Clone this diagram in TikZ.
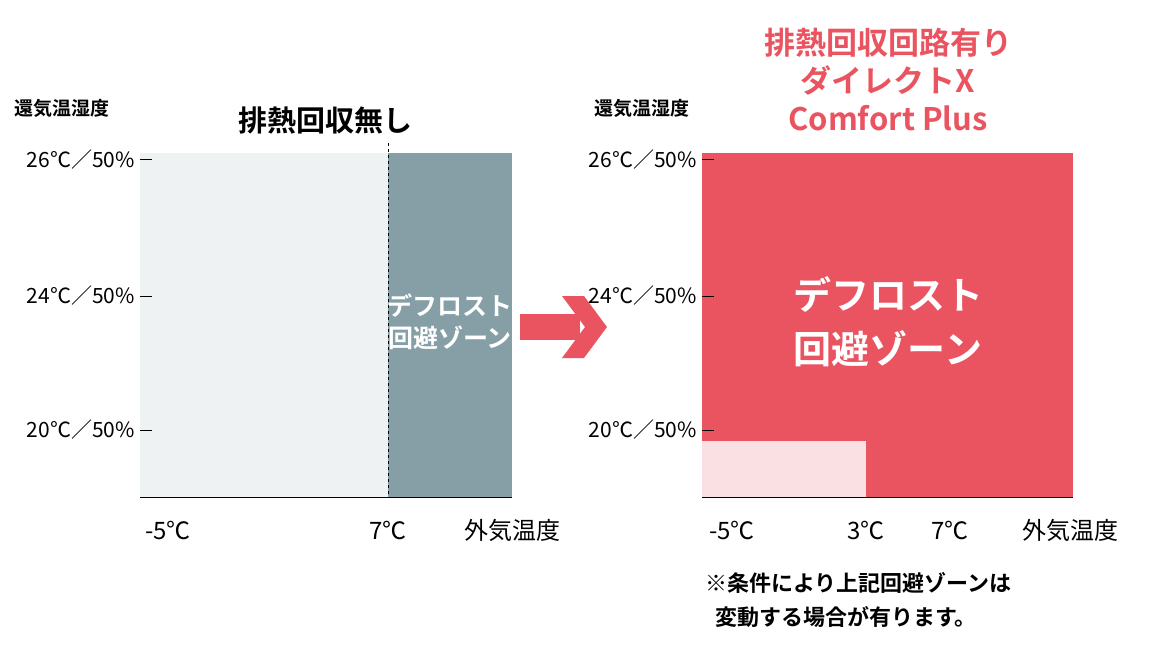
\documentclass[tikz,border=0pt]{standalone}
\usepackage{fontspec}
\setmainfont{Noto Sans CJK JP}
\newfontfamily\jpb{Noto Sans CJK JP Bold}
\definecolor{lgray}{HTML}{EEF2F3}
\definecolor{bgray}{HTML}{869FA6}
\definecolor{myred}{HTML}{EA5460}
\definecolor{lpink}{HTML}{FBE0E3}
\begin{document}
\begin{tikzpicture}[x=1pt,y=-1pt,
  ylab/.style={anchor=east,font=\fontsize{21}{21}\selectfont,inner sep=0},
  xlab/.style={font=\fontsize{24}{24}\selectfont,inner sep=0},
  tick/.style={line width=1pt}]
\useasboundingbox[fill=white] (0,0) rectangle (1150,660);
% left panel
\fill[lgray] (140,153) rectangle (388,497);
\fill[bgray] (388,153) rectangle (512,497);
\draw[dashed,line width=1pt] (388,143) -- (388,497);
\draw[line width=1pt] (140,497) -- (512,497);
\node[font=\jpb\fontsize{29}{29}\selectfont] (t1) at (325,120) {排熱回収無し};
\node[font=\jpb\fontsize{19}{19}\selectfont] (y1) at (62,108) {還気温湿度};
\foreach \yy/\t/\n in {160/26/a,296/24/b,430/20/c}{
  \node[ylab] (l\n) at (135,\yy) {\t℃／50\%};
  \draw[tick] (140,\yy) -- (152,\yy);
}
\node[xlab] (x1) at (168,530) {-5℃};
\node[xlab] (x2) at (388,530) {7℃};
\node[xlab] (x3) at (512,530) {外気温度};
\node[font=\jpb\fontsize{25}{32}\selectfont,text=white,align=center] (z1) at (450,322) {デフロスト\\回避ゾーン};
% arrow
\fill[myred] (520,314) rectangle (580,340);
\fill[myred] (562,296) -- (584,296) -- (607,327) -- (584,358) -- (562,358) -- (585,327) -- cycle;
% right panel
\fill[myred] (702,153) rectangle (1073,497);
\fill[lpink] (702,441) rectangle (866,497);
\draw[line width=1pt] (702,497) -- (1073,497);
\node[font=\jpb\fontsize{19}{19}\selectfont] (y2) at (642,108) {還気温湿度};
\foreach \yy/\t/\n in {160/26/a,296/24/b,430/20/c}{
  \node[ylab] (r\n) at (697,\yy) {\t℃／50\%};
  \draw[tick] (702,\yy) -- (714,\yy);
}
\node[font=\jpb\fontsize{31}{38}\selectfont,text=myred,align=center] (t2) at (888,80) {排熱回収回路有り\\ダイレクトX\\Comfort Plus};
\node[font=\jpb\fontsize{38}{54}\selectfont,text=white,align=center] (z2) at (888,322) {デフロスト\\回避ゾーン};
\node[xlab] (r1) at (732,530) {-5℃};
\node[xlab] (r2) at (866,530) {3℃};
\node[xlab] (r3) at (950,530) {7℃};
\node[xlab] (r4) at (1070,530) {外気温度};
\node[font=\jpb\fontsize{22}{34}\selectfont,align=left,anchor=north west,inner sep=0] (n) at (705,572) {※条件により上記回避ゾーンは\\\ \ 変動する場合が有ります。};
\end{tikzpicture}
\end{document}
